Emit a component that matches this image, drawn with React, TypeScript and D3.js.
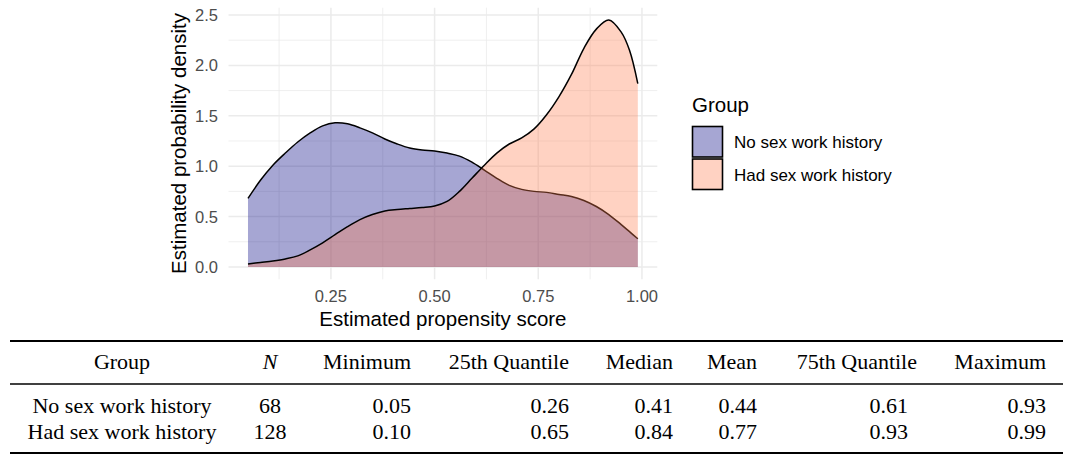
import React from "react";
import * as d3 from "d3";

// ---- Data ----
const xGrid = [0.05, 0.08, 0.11, 0.14, 0.17, 0.2, 0.23, 0.26, 0.29, 0.32, 0.35, 0.38, 0.41, 0.44, 0.47, 0.5, 0.53, 0.56, 0.59, 0.62, 0.65, 0.68, 0.71, 0.74, 0.77, 0.8, 0.83, 0.86, 0.89, 0.92, 0.95, 0.97, 0.99];
const noSexWorkDensity = [0.68, 0.86, 1.01, 1.13, 1.24, 1.33, 1.40, 1.43, 1.42, 1.38, 1.33, 1.27, 1.22, 1.18, 1.16, 1.15, 1.13, 1.10, 1.04, 0.96, 0.88, 0.81, 0.77, 0.75, 0.74, 0.72, 0.70, 0.66, 0.60, 0.52, 0.42, 0.35, 0.28];
const hadSexWorkDensity = [0.03, 0.045, 0.06, 0.08, 0.11, 0.17, 0.24, 0.32, 0.40, 0.47, 0.52, 0.555, 0.57, 0.58, 0.59, 0.605, 0.65, 0.75, 0.88, 1.01, 1.13, 1.22, 1.28, 1.37, 1.51, 1.69, 1.91, 2.17, 2.36, 2.45, 2.33, 2.15, 1.82];

const groups = ["No sex work history", "Had sex work history"];
const xTicks = [0.25, 0.5, 0.75, 1.0];
const xTickLabels = ["0.25", "0.50", "0.75", "1.00"];
const xMinor = [0.125, 0.375, 0.625, 0.875];
const yTicks = [0, 0.5, 1.0, 1.5, 2.0, 2.5];
const yTickLabels = ["0.0", "0.5", "1.0", "1.5", "2.0", "2.5"];
const yMinor = [0.25, 0.75, 1.25, 1.75, 2.25];

const tableHeaders = ["Group", "N", "Minimum", "25th Quantile", "Median", "Mean", "75th Quantile", "Maximum"];
const tableN = ["68", "128"];
const tableMinimum = ["0.05", "0.10"];
const tableQ25 = ["0.26", "0.65"];
const tableMedian = ["0.41", "0.84"];
const tableMean = ["0.44", "0.77"];
const tableQ75 = ["0.61", "0.93"];
const tableMaximum = ["0.93", "0.99"];

// ---- Layout / style ----
const W = 1080;
const H = 459;
const sans = "'Liberation Sans', Arial, Helvetica, sans-serif";
const serif = "'Liberation Serif', 'Times New Roman', Times, serif";
const fillColors = ["#000080", "#FF7F50"];
const fillAlpha = 0.35;
const keyColors = ["#a6a6d3", "#ffd2c2"];

export default function App() {
  const x = d3.scaleLinear().domain([0.003, 1.037]).range([228.5, 657.3]);
  const y = d3.scaleLinear().domain([-0.1225, 2.5725]).range([279.3, 7.7]);
  const [x0, x1] = x.range();
  const [yb, yt] = y.range();

  const series = [noSexWorkDensity, hadSexWorkDensity];
  const curve = d3.curveCatmullRom.alpha(0.5);
  const area = d3
    .area<number>()
    .x((_, i) => x(xGrid[i]))
    .y0(y(0))
    .y1((d) => y(d))
    .curve(curve);
  const line = d3
    .line<number>()
    .x((_, i) => x(xGrid[i]))
    .y((d) => y(d))
    .curve(curve);

  // table layout
  const cols = [
    { anchor: "middle", x: 122 },
    { anchor: "middle", x: 270 },
    { anchor: "end", x: 411 },
    { anchor: "end", x: 569 },
    { anchor: "end", x: 673 },
    { anchor: "end", x: 757 },
    { anchor: "end", x: 917, valX: 908 },
    { anchor: "end", x: 1046 },
  ];
  const rowValues = groups.map((g, r) => [
    g,
    tableN[r],
    tableMinimum[r],
    tableQ25[r],
    tableMedian[r],
    tableMean[r],
    tableQ75[r],
    tableMaximum[r],
  ]);
  const rowBaselines = [413, 439];

  return (
    <svg
      width={W}
      height={H}
      viewBox={`0 0 ${W} ${H}`}
      style={{ position: "absolute", left: 0, top: 0, background: "#fff" }}
    >
      {/* grid */}
      <g>
        {yMinor.map((v) => (
          <line key={"ym" + v} x1={x0} x2={x1} y1={y(v)} y2={y(v)} stroke="#ebebeb" strokeWidth={0.8} />
        ))}
        {xMinor.map((v) => (
          <line key={"xm" + v} x1={x(v)} x2={x(v)} y1={yb} y2={yt} stroke="#ebebeb" strokeWidth={0.8} />
        ))}
        {yTicks.map((v) => (
          <line key={"yM" + v} x1={x0} x2={x1} y1={y(v)} y2={y(v)} stroke="#ebebeb" strokeWidth={1.5} />
        ))}
        {xTicks.map((v) => (
          <line key={"xM" + v} x1={x(v)} x2={x(v)} y1={yb} y2={yt} stroke="#ebebeb" strokeWidth={1.5} />
        ))}
      </g>

      {/* densities */}
      {series.map((s, i) => (
        <g key={"s" + i}>
          <path d={area(s) || ""} fill={fillColors[i]} fillOpacity={fillAlpha} stroke="none" />
          <path d={line(s) || ""} fill="none" stroke="#000" strokeWidth={1.5} />
        </g>
      ))}

      {/* axes labels */}
      {yTicks.map((v, i) => (
        <text key={"yl" + v} x={218} y={y(v) + 6} textAnchor="end" fontFamily={sans} fontSize={16.5} fill="#4d4d4d">
          {yTickLabels[i]}
        </text>
      ))}
      {xTicks.map((v, i) => (
        <text key={"xl" + v} x={x(v)} y={302} textAnchor="middle" fontFamily={sans} fontSize={16.5} fill="#4d4d4d">
          {xTickLabels[i]}
        </text>
      ))}
      <text x={(x0 + x1) / 2} y={326} textAnchor="middle" fontFamily={sans} fontSize={20.5} fill="#000">
        Estimated propensity score
      </text>
      <text
        transform={`translate(186, ${(yb + yt) / 2}) rotate(-90)`}
        textAnchor="middle"
        fontFamily={sans}
        fontSize={20.5}
        fill="#000"
      >
        Estimated probability density
      </text>

      {/* legend */}
      <text x={692} y={112} fontFamily={sans} fontSize={20.5} fill="#000">
        Group
      </text>
      {groups.map((g, i) => (
        <g key={"lg" + i}>
          <rect x={692.5} y={126.5 + i * 32.5} width={30} height={30.5} fill={keyColors[i]} stroke="#000" strokeWidth={1.6} />
          <text x={734} y={148 + i * 33} fontFamily={sans} fontSize={17} fill="#000">
            {g}
          </text>
        </g>
      ))}

      {/* table */}
      <line x1={10} x2={1063} y1={341} y2={341} stroke="#000" strokeWidth={2} />
      <line x1={10} x2={1063} y1={384} y2={384} stroke="#000" strokeWidth={1.3} />
      <line x1={10} x2={1063} y1={453} y2={453} stroke="#000" strokeWidth={2} />
      {tableHeaders.map((h, c) => (
        <text
          key={"th" + c}
          x={cols[c].x}
          y={369}
          textAnchor={cols[c].anchor as any}
          fontFamily={serif}
          fontSize={22}
          fontStyle={h === "N" ? "italic" : "normal"}
          fill="#000"
        >
          {h}
        </text>
      ))}
      {rowValues.map((row, r) =>
        row.map((v, c) => (
          <text
            key={"td" + r + "_" + c}
            x={(cols[c] as any).valX ?? cols[c].x}
            y={rowBaselines[r]}
            textAnchor={cols[c].anchor as any}
            fontFamily={serif}
            fontSize={22}
            fill="#000"
          >
            {v}
          </text>
        ))
      )}
    </svg>
  );
}
